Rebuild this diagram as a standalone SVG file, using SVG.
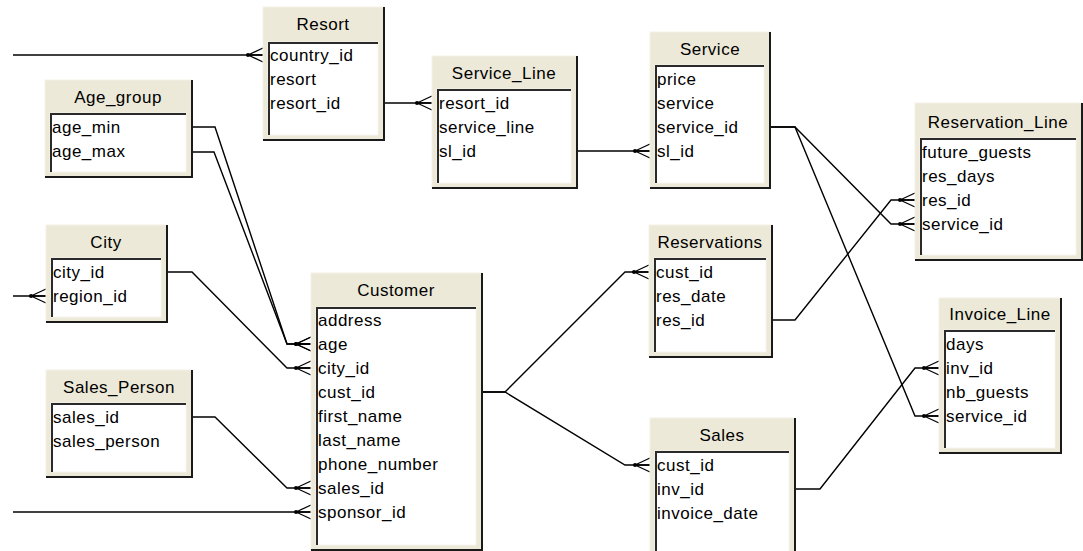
<svg xmlns="http://www.w3.org/2000/svg" width="1083" height="551" viewBox="0 0 1083 551">
<style>
.box{fill:#ECE9D8;stroke:#F4F2E8;stroke-width:1}
.shade{fill:none;stroke:#1a1a1a;stroke-width:2}
.inner{fill:#FFFFFF;stroke:#F6F5EE;stroke-width:1}
.sunk{fill:none;stroke:#2a2a2a;stroke-width:2}
text{font-family:"Liberation Sans",Arial,sans-serif;font-size:17px;fill:#000;letter-spacing:0.5px}
.hd{text-anchor:middle}
.cn{fill:none;stroke:#000;stroke-width:1.4;marker-end:url(#crow)}
</style>
<defs>
<marker id="crow" markerUnits="userSpaceOnUse" viewBox="-17 -8 18 16" refX="0" refY="0" markerWidth="18" markerHeight="16" orient="auto" overflow="visible">
<path d="M-15,0 L0,-7 M-15,0 L0,0 M-15,0 L0,7" fill="none" stroke="#000" stroke-width="1.3"/>
<circle cx="-15" cy="0" r="2" fill="#000"/>
</marker>
</defs>
<rect width="1083" height="551" fill="#FFFFFF"/>
<g id="connectors">
<path class="cn" d="M13,55 H263"/>
<path class="cn" d="M384,103 H432"/>
<path class="cn" d="M577,151 H650"/>
<path class="cn" d="M770,127 H795 L891,224 H915"/>
<path class="cn" d="M770,127 H795 L915,416 H939"/>
<path class="cn" d="M772,320 H795 L891,200 H915"/>
<path class="cn" d="M795,489 H820 L915,368 H939"/>
<path class="cn" d="M482,392 H505 L625,272 H649"/>
<path class="cn" d="M482,392 H505 L625,465 H650"/>
<path class="cn" d="M192,127 H215 L287,344 H311"/>
<path class="cn" d="M192,152 H214 L287,344 H311"/>
<path class="cn" d="M167,272 H192 L287,368 H311"/>
<path class="cn" d="M13,296 H46"/>
<path class="cn" d="M192,417 H215 L287,488 H311"/>
<path class="cn" d="M13,512 H311"/>
</g>
<g id="resort">
<rect class="box" x="263" y="7" width="121" height="133"/>
<rect class="inner" x="268" y="42" width="110" height="93"/>
<path class="sunk" d="M269,135 V43 H378"/>
<path class="shade" d="M384,7 V140 H263"/>
<text class="hd" x="323" y="30">Resort</text>
<text x="270" y="61">country_id</text>
<text x="270" y="85">resort</text>
<text x="270" y="109">resort_id</text>
</g>
<g id="age_group">
<rect class="box" x="45" y="80" width="147" height="97"/>
<rect class="inner" x="50" y="113" width="136" height="59"/>
<path class="sunk" d="M51,172 V114 H186"/>
<path class="shade" d="M192,80 V177 H45"/>
<text class="hd" x="118" y="103">Age_group</text>
<text x="52" y="133">age_min</text>
<text x="52" y="157">age_max</text>
</g>
<g id="service_line">
<rect class="box" x="432" y="56" width="145" height="132"/>
<rect class="inner" x="437" y="89" width="134" height="94"/>
<path class="sunk" d="M438,183 V90 H571"/>
<path class="shade" d="M577,56 V188 H432"/>
<text class="hd" x="504" y="79">Service_Line</text>
<text x="439" y="109">resort_id</text>
<text x="439" y="133">service_line</text>
<text x="439" y="157">sl_id</text>
</g>
<g id="service">
<rect class="box" x="650" y="32" width="120" height="156"/>
<rect class="inner" x="655" y="65" width="109" height="118"/>
<path class="sunk" d="M656,183 V66 H764"/>
<path class="shade" d="M770,32 V188 H650"/>
<text class="hd" x="710" y="55">Service</text>
<text x="657" y="85">price</text>
<text x="657" y="109">service</text>
<text x="657" y="133">service_id</text>
<text x="657" y="157">sl_id</text>
</g>
<g id="reservation_line">
<rect class="box" x="915" y="103" width="167" height="157"/>
<rect class="inner" x="920" y="138" width="156" height="117"/>
<path class="sunk" d="M921,255 V139 H1076"/>
<path class="shade" d="M1082,103 V260 H915"/>
<text class="hd" x="998" y="128">Reservation_Line</text>
<text x="922" y="158">future_guests</text>
<text x="922" y="182">res_days</text>
<text x="922" y="206">res_id</text>
<text x="922" y="230">service_id</text>
</g>
<g id="city">
<rect class="box" x="46" y="225" width="121" height="97"/>
<rect class="inner" x="51" y="258" width="110" height="59"/>
<path class="sunk" d="M52,317 V259 H161"/>
<path class="shade" d="M167,225 V322 H46"/>
<text class="hd" x="106" y="248">City</text>
<text x="53" y="278">city_id</text>
<text x="53" y="302">region_id</text>
</g>
<g id="customer">
<rect class="box" x="311" y="273" width="171" height="277"/>
<rect class="inner" x="316" y="307" width="160" height="238"/>
<path class="sunk" d="M317,545 V308 H476"/>
<path class="shade" d="M482,273 V550 H311"/>
<text class="hd" x="396" y="296">Customer</text>
<text x="318" y="326">address</text>
<text x="318" y="350">age</text>
<text x="318" y="374">city_id</text>
<text x="318" y="398">cust_id</text>
<text x="318" y="422">first_name</text>
<text x="318" y="446">last_name</text>
<text x="318" y="470">phone_number</text>
<text x="318" y="494">sales_id</text>
<text x="318" y="518">sponsor_id</text>
</g>
<g id="reservations">
<rect class="box" x="649" y="225" width="123" height="132"/>
<rect class="inner" x="654" y="258" width="112" height="94"/>
<path class="sunk" d="M655,352 V259 H766"/>
<path class="shade" d="M772,225 V357 H649"/>
<text class="hd" x="710" y="248">Reservations</text>
<text x="656" y="278">cust_id</text>
<text x="656" y="302">res_date</text>
<text x="656" y="326">res_id</text>
</g>
<g id="invoice_line">
<rect class="box" x="939" y="298" width="122" height="155"/>
<rect class="inner" x="944" y="330" width="111" height="118"/>
<path class="sunk" d="M945,448 V331 H1055"/>
<path class="shade" d="M1061,298 V453 H939"/>
<text class="hd" x="1000" y="320">Invoice_Line</text>
<text x="946" y="350">days</text>
<text x="946" y="374">inv_id</text>
<text x="946" y="398">nb_guests</text>
<text x="946" y="422">service_id</text>
</g>
<g id="sales">
<rect class="box" x="650" y="418" width="145" height="142"/>
<rect class="inner" x="655" y="451" width="134" height="104"/>
<path class="sunk" d="M656,555 V452 H789"/>
<path class="shade" d="M795,418 V560 H650"/>
<text class="hd" x="722" y="441">Sales</text>
<text x="657" y="471">cust_id</text>
<text x="657" y="495">inv_id</text>
<text x="657" y="519">invoice_date</text>
</g>
<g id="sales_person">
<rect class="box" x="46" y="370" width="146" height="107"/>
<rect class="inner" x="51" y="403" width="135" height="69"/>
<path class="sunk" d="M52,472 V404 H186"/>
<path class="shade" d="M192,370 V477 H46"/>
<text class="hd" x="119" y="393">Sales_Person</text>
<text x="53" y="423">sales_id</text>
<text x="53" y="447">sales_person</text>
</g>
</svg>
